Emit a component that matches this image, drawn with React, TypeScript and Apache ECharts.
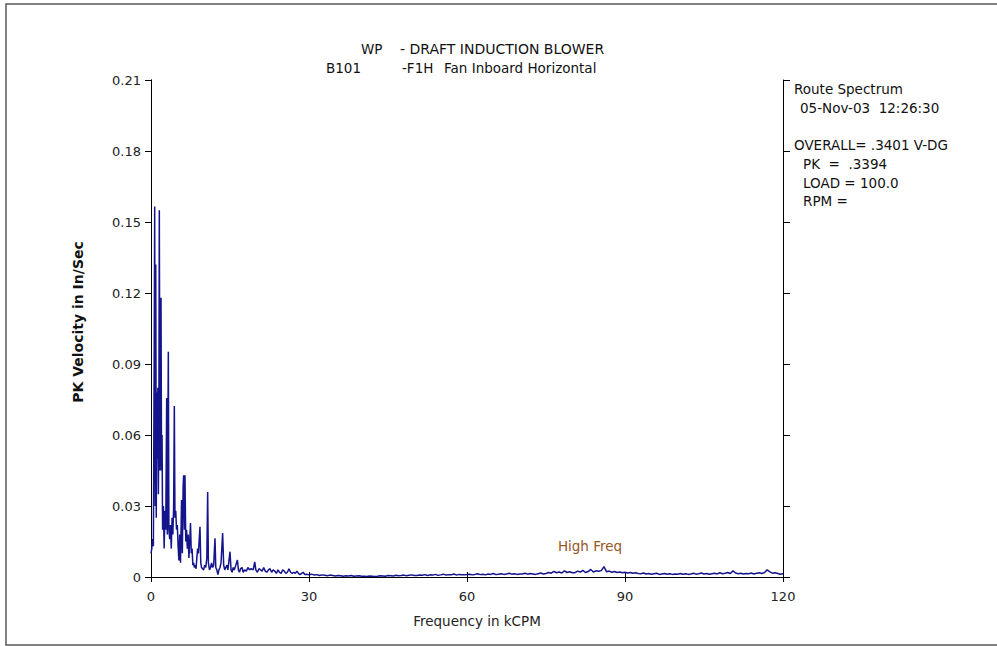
import React, { useEffect, useRef } from "react";
import * as echarts from "echarts";

// Frequency axis (kCPM) and amplitude axis (in/sec) settings
const xTicks = [0, 30, 60, 90, 120];
const yTickStep = 0.03;
const yMax = 0.21;

// Low-frequency part of the spectrum: [kCPM, in/sec]
const lowFreq = [
  0.0, 0.15, 0.3, 0.45, 0.6, 0.7, 0.8, 0.9, 1.0, 1.1, 1.2, 1.3, 1.4, 1.5, 1.58, 1.7, 1.8, 1.9, 2.0, 2.1,
  2.2, 2.35, 2.5, 2.65, 2.8, 2.98, 3.1, 3.29, 3.4, 3.55, 3.7, 3.85, 4.0, 4.15, 4.3, 4.43, 4.55, 4.7, 4.85, 5.0,
  5.15, 5.3, 5.45, 5.6, 5.8, 5.95, 6.1, 6.2, 6.35, 6.45, 6.6, 6.75, 6.9, 7.05, 7.2, 7.35, 7.5, 7.65, 7.8, 7.95,
  8.1, 8.25, 8.4, 8.55, 8.7, 8.85, 9.0, 9.3, 9.45, 9.6, 9.8, 10.0, 10.2, 10.4, 10.6, 10.76, 10.9, 11.1, 11.3, 11.5,
  11.7, 11.9, 12.15, 12.3, 12.5, 12.7, 12.9, 13.1, 13.3, 13.6, 13.8, 14.0, 14.2, 14.4, 14.6, 15.0, 15.2, 15.4, 15.6, 15.8,
  16.1, 16.4, 16.6, 16.8, 17.0, 17.3, 17.5, 17.8, 18.1, 18.4, 18.7, 19.0, 19.4, 19.7, 19.9, 20.2, 20.5, 20.8, 21.1, 21.4,
  21.7, 22.0, 22.3, 22.6, 22.9, 23.2, 23.5, 23.8, 24.1, 24.4, 24.7, 25.0, 25.3, 25.6, 25.9, 26.2, 26.5, 26.8, 27.1, 27.4,
  27.7, 28.0, 28.3, 28.6, 28.9, 29.2, 29.5, 30.0,
];
const lowAmp = [
  0.010, 0.012, 0.016, 0.013, 0.09, 0.1565, 0.03, 0.132, 0.025, 0.078, 0.05, 0.08, 0.035, 0.07, 0.155, 0.045, 0.075, 0.118, 0.045, 0.06,
  0.02, 0.03, 0.012, 0.028, 0.02, 0.0756, 0.018, 0.0952, 0.02, 0.016, 0.022, 0.012, 0.025, 0.018, 0.03, 0.0722, 0.025, 0.028, 0.02, 0.022,
  0.013, 0.007, 0.018, 0.006, 0.0325, 0.01, 0.038, 0.043, 0.02, 0.043, 0.015, 0.02, 0.012, 0.018, 0.008, 0.015, 0.0228, 0.01, 0.012, 0.005,
  0.006, 0.004, 0.005, 0.0035, 0.008, 0.012, 0.01, 0.0212, 0.006, 0.004, 0.0035, 0.003, 0.005, 0.004, 0.008, 0.0359, 0.006, 0.003, 0.004, 0.006,
  0.004, 0.005, 0.0164, 0.004, 0.003, 0.001, 0.003, 0.004, 0.006, 0.0186, 0.005, 0.003, 0.004, 0.005, 0.003, 0.0107, 0.003, 0.002, 0.004, 0.003,
  0.005, 0.0072, 0.003, 0.002, 0.0035, 0.004, 0.002, 0.003, 0.0025, 0.004, 0.003, 0.0035, 0.003, 0.0064, 0.003, 0.002, 0.0035, 0.003, 0.0025, 0.004,
  0.0025, 0.002, 0.003, 0.0035, 0.002, 0.003, 0.0025, 0.0015, 0.003, 0.002, 0.0015, 0.003, 0.0025, 0.0015, 0.002, 0.0035, 0.002, 0.0015, 0.002, 0.0015,
  0.0025, 0.0015, 0.001, 0.0015, 0.002, 0.001, 0.0012, 0.0009,
];

// Higher bands, 0.5 kCPM bins, each band starts at the given frequency
const hfStep = 0.5;
const band30 = [0.0012, 0.0008, 0.001, 0.0006, 0.0009, 0.0007, 0.0005, 0.0008, 0.0006, 0.0004, 0.0006, 0.0005, 0.0003, 0.0005, 0.0004, 0.0006, 0.0003, 0.0004, 0.0005, 0.0003];
const band40 = [0.0003, 0.0002, 0.0004, 0.0003, 0.0002, 0.0003, 0.0005, 0.0004, 0.0003, 0.0006, 0.0005, 0.0004, 0.0007, 0.0005, 0.0006, 0.0008, 0.0005, 0.0007, 0.0009, 0.0006];
const band50 = [0.0006, 0.0008, 0.0007, 0.001, 0.0006, 0.0009, 0.0008, 0.0011, 0.0007, 0.0009, 0.0012, 0.0008, 0.001, 0.0009, 0.0013, 0.0008, 0.0011, 0.001, 0.0009, 0.0011];
const band60 = [0.0012, 0.0009, 0.0011, 0.0014, 0.001, 0.0012, 0.0009, 0.0013, 0.0011, 0.0015, 0.001, 0.0012, 0.0014, 0.0011, 0.0013, 0.0016, 0.0012, 0.0014, 0.0011, 0.0013];
const band70 = [0.0013, 0.0016, 0.0012, 0.0015, 0.0013, 0.0011, 0.0014, 0.0017, 0.0013, 0.0015, 0.0019, 0.0016, 0.0024, 0.0018, 0.0021, 0.0017, 0.0026, 0.0019, 0.0022, 0.0018];
const band80 = [0.0018, 0.0025, 0.0021, 0.0028, 0.0019, 0.0023, 0.0032, 0.0021, 0.0026, 0.0024, 0.0027, 0.0044, 0.0022, 0.0025, 0.002, 0.0023, 0.0019, 0.0021, 0.0018, 0.002];
const band90 = [0.0017, 0.0019, 0.0016, 0.0018, 0.0015, 0.0014, 0.0017, 0.0013, 0.0015, 0.0012, 0.0014, 0.0016, 0.0011, 0.0013, 0.0015, 0.0012, 0.0014, 0.0011, 0.0013, 0.0012];
const band100 = [0.0015, 0.0012, 0.0014, 0.0011, 0.0013, 0.0016, 0.0012, 0.0014, 0.0017, 0.0013, 0.0015, 0.0012, 0.0014, 0.0016, 0.0013, 0.0018, 0.0014, 0.0016, 0.0019, 0.0015];
const band110 = [0.0026, 0.0017, 0.0014, 0.0016, 0.0013, 0.0015, 0.0014, 0.0017, 0.0013, 0.0016, 0.0018, 0.0015, 0.0019, 0.003, 0.0022, 0.0016, 0.0018, 0.0015, 0.0012, 0.0014];
const bands: [number, number[]][] = [
  [30, band30], [40, band40], [50, band50], [60, band60], [70, band70],
  [80, band80], [90, band90], [100, band100], [110, band110],
];

const titleLine1 = ["WP", "- DRAFT INDUCTION BLOWER"];
const titleLine2 = ["B101", "-F1H", "Fan Inboard Horizontal"];
const infoLines = [
  "Route Spectrum",
  "05-Nov-03  12:26:30",
  "OVERALL= .3401 V-DG",
  "PK  =  .3394",
  "LOAD = 100.0",
  "RPM =",
];
const xAxisTitle = "Frequency in kCPM";
const yAxisTitle = "PK Velocity in In/Sec";
const bandNote = "High Freq";

const FONT = '"DejaVu Sans", "Liberation Sans", Arial, sans-serif';

export default function App() {
  const ref = useRef<HTMLDivElement>(null);

  useEffect(() => {
    if (!ref.current) return;
    const chart = echarts.init(ref.current, undefined, { renderer: "svg" });

    const data: [number, number][] = [];
    lowFreq.forEach((f, i) => data.push([f, lowAmp[i]]));
    bands.forEach(([start, vals]) => {
      vals.forEach((v, i) => data.push([start + (i + 1) * hfStep, v]));
    });

    const txt = (text: string, x: number, y: number, extra: any = {}) => ({
      type: "text",
      x,
      y,
      silent: true,
      style: {
        text,
        fill: "#111",
        font: `13.5px ${FONT}`,
        textAlign: "left",
        textVerticalAlign: "middle",
        ...extra,
      },
    });

    const axisLine = { show: true, lineStyle: { color: "#000", width: 1 } };

    chart.setOption({
      animation: false,
      backgroundColor: "#fff",
      grid: { left: 151, top: 80, right: 214, bottom: 69 },
      xAxis: [
        {
          type: "value",
          position: "bottom",
          min: xTicks[0],
          max: xTicks[xTicks.length - 1],
          interval: 30,
          axisLine,
          axisTick: { show: true, inside: true, length: 5, lineStyle: { color: "#000" } },
          axisLabel: { margin: 13, fontSize: 13, color: "#222", fontFamily: FONT },
          splitLine: { show: false },
        },
        {
          type: "value",
          position: "top",
          min: xTicks[0],
          max: xTicks[xTicks.length - 1],
          interval: 30,
          axisLine,
          axisTick: { show: true, inside: true, length: 5, lineStyle: { color: "#000" } },
          axisLabel: { show: false },
          splitLine: { show: false },
        },
      ],
      yAxis: [
        {
          type: "value",
          position: "left",
          min: 0,
          max: yMax,
          interval: yTickStep,
          axisLine,
          axisTick: { show: true, inside: false, length: 6, lineStyle: { color: "#000" } },
          axisLabel: {
            margin: 10,
            fontSize: 13,
            color: "#222",
            fontFamily: FONT,
            formatter: (v: number) => (v === 0 ? "0" : v.toFixed(2)),
          },
          splitLine: { show: false },
        },
        {
          type: "value",
          position: "right",
          min: 0,
          max: yMax,
          interval: yTickStep,
          axisLine,
          axisTick: { show: true, inside: true, length: 4, lineStyle: { color: "#000" } },
          axisLabel: { show: false },
          splitLine: { show: false },
        },
        {
          type: "value",
          position: "right",
          min: 0,
          max: yMax,
          interval: yTickStep,
          axisLine,
          axisTick: { show: true, inside: false, length: 7, lineStyle: { color: "#000" } },
          axisLabel: { show: false },
          splitLine: { show: false },
        },
      ],
      series: [
        {
          type: "line",
          xAxisIndex: 0,
          yAxisIndex: 0,
          data,
          showSymbol: false,
          symbol: "none",
          silent: true,
          lineStyle: { color: "#14148c", width: 1.5 },
        },
      ],
      graphic: [
        {
          type: "rect",
          silent: true,
          shape: { x: 6, y: 4, width: 1010, height: 641 },
          style: { fill: "none", stroke: "#5a5a5a", lineWidth: 1.5 },
        },
        txt(titleLine1[0], 361, 49),
        txt(titleLine1[1], 400, 49, { font: `14px ${FONT}` }),
        txt(titleLine2[0], 326, 68),
        txt(titleLine2[1], 402, 68),
        txt(titleLine2[2], 444, 68),
        txt(infoLines[0], 794, 89),
        txt(infoLines[1], 800, 108),
        txt(infoLines[2], 794, 145),
        txt(infoLines[3], 803, 164),
        txt(infoLines[4], 803, 183),
        txt(infoLines[5], 803, 201),
        txt(bandNote, 590, 546, { fill: "#97561f", textAlign: "center" }),
        txt(xAxisTitle, 477, 621, { textAlign: "center", fill: "#222" }),
        {
          type: "text",
          x: 78,
          y: 322,
          rotation: Math.PI / 2,
          silent: true,
          style: {
            text: yAxisTitle,
            fill: "#111",
            font: `bold 14px ${FONT}`,
            textAlign: "center",
            textVerticalAlign: "middle",
          },
        },
      ],
    });

    return () => chart.dispose();
  }, []);

  return (
    <div
      ref={ref}
      style={{ position: "absolute", left: 0, top: 0, width: 997, height: 646, background: "#fff" }}
    />
  );
}
